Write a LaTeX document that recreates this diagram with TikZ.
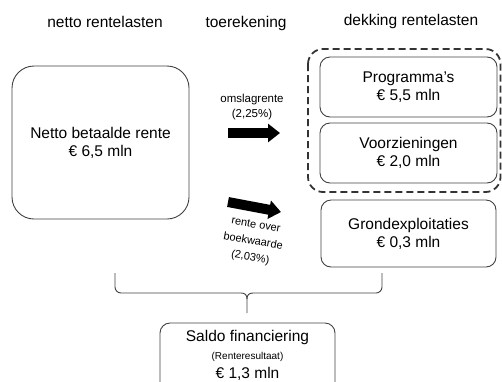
\documentclass[tikz,border=0pt]{standalone}
\usepackage{fontspec}
\setmainfont{Liberation Sans}
\usetikzlibrary{arrows.meta}
\begin{document}
\begin{tikzpicture}[x=1pt,y=-1pt,
  box/.style={draw=black!75,line width=0.9pt,rounded corners=10pt,align=center,inner sep=0pt,
    font=\fontsize{15.5}{18}\selectfont},
  head/.style={font=\fontsize{15.5}{18}\selectfont,inner sep=0pt},
  small/.style={font=\fontsize{11.5}{15}\selectfont,align=center,inner sep=0pt},
  blockarrow/.style={line width=10pt,-{Triangle[length=12pt,width=18pt]}},
  dashbox/.style={draw=black!80,line width=1.8pt,dash pattern=on 7pt off 4pt,rounded corners=15pt}]
\useasboundingbox (0,0) rectangle (502,381);
% headings
\node[head] (h1) at (105,22) {netto rentelasten};
\node[head] (h2) at (246,23) {toerekening};
\node[head] (h3) at (411,21) {dekking rentelasten};
% boxes
\node[box,rounded corners=22pt,minimum width=177pt,minimum height=153pt] (netto) at (100.5,142.5)
  {Netto betaalde rente\\€ 6,5 mln};
\node[box,minimum width=177pt,minimum height=60pt] (prog) at (408.5,87)
  {Programma's\\€ 5,5 mln};
\node[box,minimum width=177pt,minimum height=60pt] (voor) at (408.5,153)
  {Voorzieningen\\€ 2,0 mln};
\node[box,minimum width=175pt,minimum height=67pt] (grond) at (408.5,233.5)
  {Grondexploitaties\\€ 0,3 mln};
\draw[dashbox] (308,49) rectangle (500.5,192);
\node[box,minimum width=175pt,minimum height=70pt] (saldo) at (247.5,358) {};
\node[head] (s1) at (247.5,337) {Saldo financiering};
\node[small,font=\fontsize{10}{12}\selectfont] (s2) at (247.5,357) {(Renteresultaat)};
\node[head] (s3) at (247.5,374) {€ 1,3 mln};
% arrows
\coordinate (a1s) at (228,133);
\coordinate (a1e) at (280,133);
\draw[blockarrow] (a1s) -- (a1e);
\node[small] (l1) at (252,107) {omslagrente\\(2,25\%)};
\coordinate (a2s) at (228,202);
\coordinate (a2e) at (281,212);
\draw[blockarrow] (a2s) -- (a2e);
\node[small,font=\fontsize{11}{16.5}\selectfont,rotate=-10] (l2) at (253,242) {rente over\\boekwaarde\\(2,03\%)};
% brace
\coordinate (bl) at (115,273);
\coordinate (br) at (382,273);
\coordinate (bt) at (247,313);
\draw[black!75,line width=0.9pt]
  (bl) -- (115,287) to[out=-90,in=180] (121,293) -- (241,293)
  .. controls (245,293) and (247,295) .. (247,299) -- (bt);
\draw[black!75,line width=0.9pt]
  (br) -- (382,287) to[out=-90,in=0] (376,293) -- (253,293)
  .. controls (249,293) and (247,295) .. (247,299);
\end{tikzpicture}
\end{document}
